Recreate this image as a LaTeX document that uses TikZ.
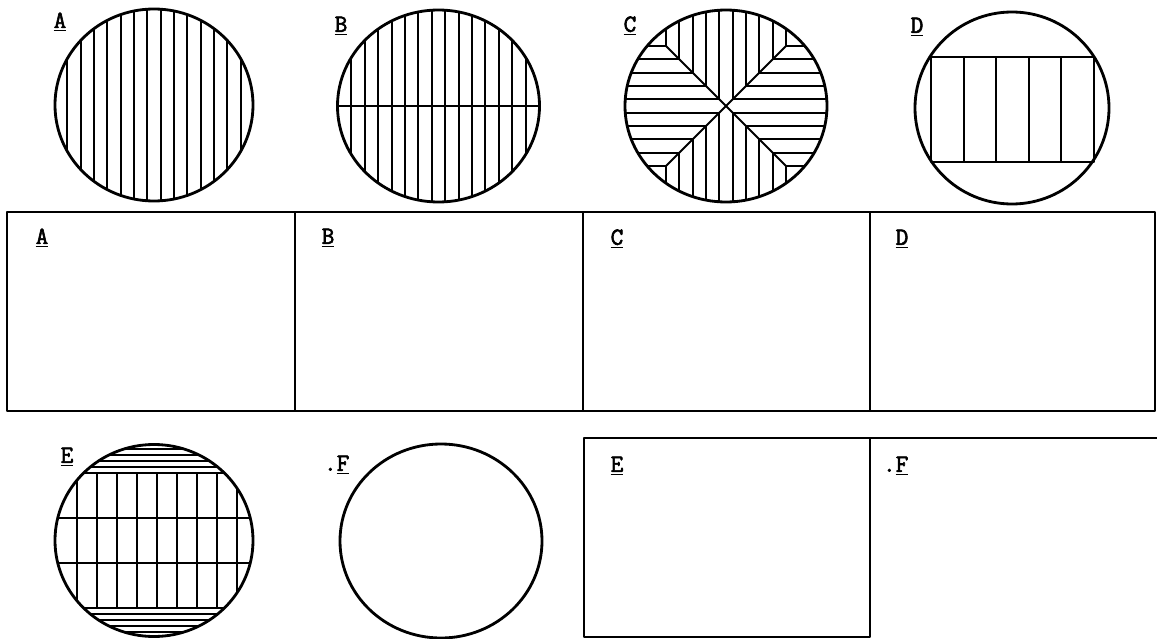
\documentclass[tikz,border=0pt]{standalone}
\usepackage{fontspec}
\newfontfamily\tagfont{Latin Modern Mono}[FakeBold = 2.5]
\begin{document}
\begin{tikzpicture}[x = .02cm, y = -.02cm, line join = round,
    rim/.style = {line width = 1.6pt},
    hatch/.style = {line width = 1.15pt},
    frame/.style = {line width = .9pt},
    tag/.style = {font = {\tagfont\fontsize{14}{14}\selectfont},
      inner sep = 0pt}]
  \useasboundingbox (0,0) rectangle (1157,639);
  % A: vertical strips
  \begin{scope}
    \clip (154,105) ellipse [x radius = 99, y radius = 96];
    \foreach \i in {0, ..., 13}
      \draw [hatch] ({67.3 + 13.33*\i}, 0) -- +(0, 210);
  \end{scope}
  % B: vertical strips, cut in two
  \begin{scope}
    \clip (438.5,106) ellipse [x radius = 101, y radius = 96];
    \foreach \i in {0, ..., 13}
      \draw [hatch] ({351.4 + 13.4*\i}, 0) -- +(0, 210);
    \draw [hatch] (330,106) -- (550,106);
  \end{scope}
  % C: four sectors
  \begin{scope}
    \clip (726,106) ellipse [x radius = 101, y radius = 96];
    \foreach \o in {-59.85, -46.55, -33.25, -19.95, -6.65,
                    6.65, 19.95, 33.25, 46.55, 59.85} {
      \draw [hatch] ({726 + \o}, 0) -- ({726 + \o}, {106 - abs(\o)})
                    ({726 + \o}, {106 + abs(\o)}) -- ({726 + \o}, 210);
      \draw [hatch] (610, {106 + \o}) -- ({726 - abs(\o)}, {106 + \o})
                    ({726 + abs(\o)}, {106 + \o}) -- (840, {106 + \o});
    }
    \draw [hatch] (666.15,46.15) -- (785.85,165.85)
                  (785.85,46.15) -- (666.15,165.85);
  \end{scope}
  % D: framed band
  \draw [hatch] (931,57) rectangle (1094,162);
  \foreach \i in {1, ..., 4}
    \draw [hatch] ({931 + 32.6*\i}, 57) -- +(0, 105);
  % E: grid with capped ends
  \begin{scope}
    \clip (154,540.5) ellipse [x radius = 99, y radius = 96];
    \foreach \y in {-67.5, -22.5, 22.5, 67.5}
      \draw [hatch] (40, {540.5 + \y}) -- +(240, 0);
    \foreach \i in {0, ..., 8}
      \draw [hatch] ({77 + 20*\i}, 473) -- ({77 + 20*\i}, 608);
    \foreach \y in {73.5, 79.5, 85.5, 91.5}
      \draw [line width = .9pt] (40, {540.5 - \y}) -- +(240, 0)
                                (40, {540.5 + \y}) -- +(240, 0);
  \end{scope}
  \draw [rim] (154,105) ellipse [x radius = 99, y radius = 96]
              (438.5,106) ellipse [x radius = 101, y radius = 96]
              (726,106) ellipse [x radius = 101, y radius = 96]
              (1012,108) ellipse [x radius = 97, y radius = 96]
              (154,540.5) ellipse [x radius = 99, y radius = 96]
              (441,541) ellipse [x radius = 101, y radius = 97];
  % answer boxes
  \draw [frame] (7,212) rectangle (1155,411);
  \foreach \x in {295, 583, 870}
    \draw [frame] (\x,212) -- (\x,411);
  \draw [frame] (1157,438) -- (584,438) -- (584,637) -- (870,637) -- (870,438);
  % letters
  \foreach \n/\x/\y in {A/60/22, B/341/26, C/630/26, D/917/27, E/67/457}
    \node [tag] (cap\n) at (\x,\y) {\underline{\n}};
  \node [tag] (capF) at (343,465) {\llap{.}\underline{F}};
  \foreach \n/\x/\y in {A/42/238, B/328/238, C/617/239, D/902/239, E/617/466}
    \node [tag] (box\n) at (\x,\y) {\underline{\n}};
  \node [tag] (boxF) at (902,466) {\llap{.}\underline{F}};
\end{tikzpicture}
\end{document}
